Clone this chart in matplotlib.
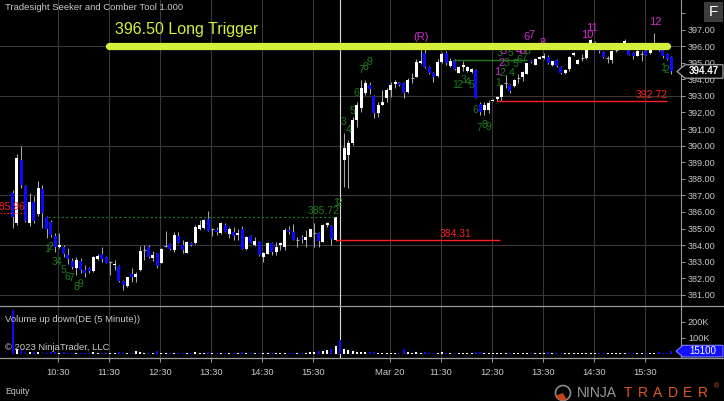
import matplotlib

matplotlib.use("Agg")
import matplotlib.pyplot as plt
import numpy as np
from matplotlib.lines import Line2D
from matplotlib.patches import Circle, Polygon, Rectangle, Wedge
from matplotlib.transforms import IdentityTransform

plt.rcParams["font.family"] = ["Liberation Sans", "DejaVu Sans"]

# ---- 5 minute bars, session 1 (Mar 17) ----
d1_open = [
    387.13, 385.36, 389.14, 387.55, 385.36, 386.63, 385.88, 387.37, 385.68, 385.42,
    384.56, 383.87, 383.91, 383.41, 383.07, 382.60, 383.07, 382.50, 382.60, 382.46,
    383.15, 383.45, 383.30, 383.00, 382.80, 382.75, 381.86, 381.54, 382.24, 382.10,
    382.50, 383.70, 383.90, 383.25, 383.50, 382.95, 383.95, 384.08, 383.71, 384.56,
    384.00, 383.55, 384.15, 384.10, 384.96, 385.02, 385.56, 384.95, 384.90, 384.72,
    385.22, 384.68, 384.82, 384.62, 384.96, 383.75, 384.56, 384.00, 384.21, 383.31,
    383.47, 384.10, 383.61, 384.00, 383.91, 384.92, 384.82, 384.30, 384.45, 384.30,
    384.52, 384.72, 384.76, 384.21, 385.22, 385.16, 384.31,
]
d1_high = [
    387.30, 389.50, 389.95, 387.65, 387.13, 386.97, 387.84, 387.63, 385.75, 385.50,
    384.76, 384.72, 384.00, 383.81, 383.20, 383.31, 383.20, 382.80, 382.70, 383.35,
    383.45, 383.90, 383.35, 383.05, 383.10, 382.80, 381.90, 382.10, 382.60, 382.35,
    383.95, 384.00, 384.00, 383.65, 383.55, 383.80, 384.88, 384.10, 384.82, 384.82,
    384.30, 384.25, 384.20, 385.20, 385.52, 385.55, 386.03, 385.02, 385.10, 385.40,
    385.32, 385.08, 385.12, 384.95, 385.16, 384.55, 384.60, 384.50, 384.25, 383.60,
    384.20, 384.20, 384.20, 384.20, 385.02, 385.16, 385.28, 384.50, 384.60, 384.90,
    385.00, 385.32, 384.82, 385.28, 385.40, 385.22, 385.72,
]
d1_low = [
    385.02, 385.20, 387.45, 385.40, 385.16, 385.35, 385.75, 385.02, 384.42, 384.50,
    383.60, 383.80, 383.30, 382.85, 382.55, 382.20, 382.30, 382.10, 382.30, 382.35,
    383.10, 383.00, 382.90, 382.20, 382.50, 381.80, 381.30, 381.50, 381.80, 381.75,
    382.45, 383.10, 383.25, 383.05, 382.60, 382.90, 383.90, 383.70, 383.60, 384.10,
    383.50, 383.50, 383.95, 384.05, 384.90, 385.00, 384.85, 384.55, 384.60, 384.70,
    384.82, 384.40, 384.30, 384.30, 383.75, 383.70, 384.10, 383.95, 383.35, 383.00,
    383.45, 383.40, 383.40, 383.70, 383.70, 384.70, 384.30, 383.90, 384.10, 383.90,
    384.50, 383.90, 383.90, 384.20, 385.10, 384.00, 384.25,
]
d1_close = [
    385.70, 389.24, 387.63, 385.46, 386.63, 385.46, 387.43, 385.92, 384.96, 384.62,
    383.87, 384.01, 383.47, 383.15, 382.67, 383.10, 382.50, 382.30, 382.46, 383.30,
    383.35, 383.15, 382.95, 383.00, 382.85, 381.86, 381.60, 382.10, 382.10, 382.26,
    383.65, 383.70, 383.27, 383.40, 382.75, 383.75, 383.95, 383.75, 384.62, 384.15,
    383.71, 384.20, 384.00, 385.12, 385.22, 385.52, 384.88, 384.95, 384.82, 385.36,
    384.82, 384.96, 384.56, 384.72, 383.75, 384.52, 384.12, 384.27, 383.41, 383.51,
    384.10, 383.61, 383.91, 384.10, 384.92, 384.82, 384.31, 384.30, 384.35, 384.50,
    384.96, 384.72, 384.27, 385.22, 385.32, 384.35, 385.68,
]

# ---- 5 minute bars, session 2 (Mar 20) ----
d2_open = [
    389.15, 389.45, 390.17, 391.56, 392.29, 393.19, 393.67, 393.01, 391.98, 392.47,
    392.89, 393.38, 393.73, 393.80, 393.80, 393.25, 394.10, 394.16, 395.00, 395.60,
    394.76, 394.40, 394.22, 395.06, 395.61, 394.82, 395.12, 394.40, 394.76, 394.52,
    394.46, 394.58, 392.53, 392.17, 392.17, 392.71, 392.83, 392.95, 393.80, 393.67,
    393.60, 394.10, 394.14, 394.34, 395.10, 394.88, 395.22, 395.29, 395.35, 394.88,
    395.18, 394.74, 394.38, 394.62, 395.49, 394.94, 395.30, 395.29, 396.15, 396.10,
    395.90, 395.63, 395.30, 395.14, 395.75, 396.00, 396.20, 395.89, 395.59, 395.43,
    395.50, 395.69, 395.59, 396.00, 395.89, 395.79, 395.50, 395.35,
]
d2_high = [
    390.78, 390.35, 391.74, 392.65, 393.98, 393.98, 393.85, 393.07, 392.60, 393.38,
    393.50, 393.85, 393.98, 393.86, 393.86, 394.08, 394.40, 395.20, 395.85, 395.90,
    394.82, 394.45, 395.24, 395.67, 395.73, 395.30, 395.24, 394.82, 395.12, 394.82,
    394.70, 394.64, 392.60, 392.65, 392.77, 392.83, 393.00, 393.74, 394.28, 393.74,
    394.00, 394.30, 394.48, 395.00, 395.15, 395.30, 395.40, 395.59, 395.45, 395.10,
    395.20, 394.78, 394.60, 395.38, 395.63, 395.25, 395.55, 396.09, 396.45, 396.30,
    396.05, 395.70, 395.40, 395.75, 395.85, 396.10, 396.45, 395.95, 395.65, 395.75,
    395.69, 395.75, 396.10, 396.80, 395.95, 395.85, 395.60, 395.40,
]
d2_low = [
    387.52, 387.46, 390.05, 391.14, 392.05, 393.05, 393.10, 391.68, 391.74, 392.47,
    392.65, 392.95, 393.50, 393.60, 392.90, 393.20, 393.80, 394.16, 394.95, 394.70,
    394.30, 393.86, 394.16, 395.00, 394.88, 394.76, 394.58, 394.35, 394.52, 394.46,
    394.40, 392.89, 391.86, 391.86, 391.98, 392.68, 392.72, 392.72, 393.49, 393.20,
    393.55, 393.80, 393.87, 394.30, 394.98, 394.85, 395.20, 395.25, 394.95, 394.80,
    394.75, 394.30, 394.30, 394.50, 395.40, 394.90, 395.10, 395.25, 396.10, 395.90,
    395.60, 395.30, 395.00, 395.00, 395.65, 395.90, 396.10, 395.45, 395.20, 395.40,
    395.08, 395.45, 395.55, 395.90, 395.70, 395.30, 395.15, 394.30,
]
d2_close = [
    389.87, 390.17, 391.56, 392.47, 393.49, 393.80, 393.43, 391.98, 392.47, 392.65,
    393.38, 393.67, 393.86, 393.67, 393.19, 393.98, 394.10, 395.06, 395.10, 394.76,
    394.40, 394.16, 395.06, 395.55, 395.00, 395.12, 394.64, 394.76, 394.88, 394.76,
    394.64, 392.89, 392.04, 392.47, 392.59, 392.77, 392.95, 393.67, 393.80, 393.32,
    393.98, 394.10, 394.42, 394.98, 395.03, 395.22, 395.35, 395.42, 394.98, 395.08,
    394.78, 394.38, 394.58, 395.35, 395.59, 395.18, 395.30, 395.99, 396.35, 396.15,
    395.69, 395.35, 395.30, 395.69, 395.75, 396.00, 396.30, 395.49, 395.39, 395.69,
    395.50, 395.49, 395.89, 396.00, 395.79, 395.40, 395.23, 394.47,
]

# volume in thousands of shares; the session-break slot has volume but no candle
d1_volume = [
    272, 28, 22, 11, 9, 10, 8, 9, 6, 7,
    8, 6, 7, 5, 6, 5, 6, 5, 4, 10,
    5, 6, 4, 3, 4, 7, 5, 6, 4, 16,
    8, 4, 6, 3, 14, 6, 4, 5, 6, 5,
    4, 5, 3, 7, 5, 6, 8, 3, 4, 5,
    4, 3, 4, 3, 9, 5, 4, 3, 6, 4,
    5, 4, 3, 3, 6, 4, 5, 3, 4, 3,
    8, 10, 14, 16, 22, 28, 45,
]
break_volume = 84
d2_volume = [
    28, 22, 14, 10, 12, 11, 8, 12, 6, 5,
    6, 5, 4, 5, 26, 8, 5, 9, 6, 7,
    5, 4, 6, 8, 5, 4, 5, 4, 3, 4,
    6, 9, 7, 5, 4, 3, 4, 5, 3, 4,
    3, 4, 3, 5, 4, 3, 3, 4, 11, 4,
    5, 4, 6, 6, 4, 3, 3, 4, 3, 4,
    3, 4, 3, 4, 3, 3, 4, 5, 4, 3,
    3, 4, 4, 5, 11, 4, 6, 15.1,
]

# time axis
hour_ticks = [10.7, 22.7, 34.7, 46.7, 58.7, 70.7, 88.7, 100.7, 112.7, 124.7, 136.7, 148.7]
hour_labels = ["10:30", "11:30", "12:30", "13:30", "14:30", "15:30",
               "Mar 20", "11:30", "12:30", "13:30", "14:30", "15:30"]
session_break = 77
grid_prices = [381, 384, 387, 390, 393, 396]
price_ticks = list(range(381, 399))

# Seeker / Comber counts (text, bar position, price)
green_counts = [
    ("1", 8.0, 383.75), ("2", 8.8, 383.87), ("3", 9.95, 383.0), ("4", 10.9, 383.0),
    ("5", 11.9, 382.5), ("6", 12.9, 382.1), ("7", 13.9, 382.04), ("8", 14.9, 381.5),
    ("9", 15.9, 381.66),
    ("1", 76.0, 386.56), ("2", 76.8, 386.56), ("3", 77.8, 391.44), ("4", 79.0, 390.94),
    ("5", 80.0, 392.1), ("6", 80.9, 393.19), ("7", 82.1, 394.56), ("8", 83.0, 394.72),
    ("9", 83.9, 395.02),
    ("1", 104.1, 393.66), ("2", 105.0, 393.66), ("3", 106.0, 393.96), ("4", 107.0, 393.82),
    ("5", 108.0, 393.66), ("6", 108.9, 392.15), ("7", 109.9, 391.05), ("8", 111.0, 391.24),
    ("9", 111.9, 391.14),
    ("1", 114.3, 393.76), ("2", 115.3, 394.4), ("3", 116.2, 394.96), ("4", 117.4, 394.4),
    ("5", 118.2, 394.9), ("6", 119.2, 395.16), ("7", 120.3, 395.28), ("3", 114.5, 395.6),
    ("5", 117.2, 395.57), ("8", 121.2, 395.7),
    ("1", 153.0, 394.68), ("2", 153.9, 394.56),
]
magenta_counts = [
    ("(R)", 96.1, 396.55), ("1", 113.9, 394.46), ("2", 115.1, 395.0), ("3", 115.6, 395.73),
    ("4", 119.0, 395.7), ("5", 120.0, 395.7), ("6", 121.0, 396.55), ("7", 122.1, 396.67),
    ("8", 124.8, 396.19), ("10", 135.1, 396.67), ("11", 136.3, 397.09), ("12", 151.1, 397.45),
]

trigger_price = 396.0
trigger_text = "396.50 Long Trigger"
prior_close = 385.96
setup_high = 385.72
setup_open = 384.31
day2_support = 392.72
day2_level = 395.16

W, H = 724, 401
BG = "black"
TXT = "#c8c8c8"
FRAME = "#9a9a9a"
GRID = "#383838"
UP = "white"
DOWN = "#0a0aff"
WICK = "#a8a8a8"
GREEN = "#1d7d1d"
MAGENTA = "#d42ad4"
RED = "#ff1e1e"
TRIGGER = "#d4f03a"


def fx(px):
    return px / W


def fy(py):
    return 1 - py / H


opens = np.array(d1_open + [np.nan] + d2_open)
highs = np.array(d1_high + [np.nan] + d2_high)
lows = np.array(d1_low + [np.nan] + d2_low)
closes = np.array(d1_close + [np.nan] + d2_close)
volume = np.array(d1_volume + [break_volume] + d2_volume) * 1000
x = np.arange(len(opens))

fig = plt.figure(figsize=(W / 100, H / 100), dpi=100, facecolor=BG)
ax = fig.add_axes([0, fy(306), fx(681), 306 / H])
axv = fig.add_axes([0, fy(358), fx(681), 52 / H], sharex=ax)

for a in (ax, axv):
    a.set_facecolor(BG)
    for side in ("top", "left", "bottom"):
        a.spines[side].set_visible(False)
    a.spines["right"].set_color(FRAME)
    a.spines["right"].set_linewidth(0.8)
    for t in hour_ticks:
        a.axvline(t, color=GRID, lw=0.8, zorder=0)
    a.axvline(session_break, color="#d8d8d8", lw=0.8, zorder=1)

ax.set_xlim(-2.99, 157.25)
ax.set_ylim(380.33, 398.78)
axv.set_ylim(-28000, 297000)

for p in grid_prices:
    ax.axhline(p, color=GRID, lw=0.8, zorder=0)

# candles
ok = ~np.isnan(opens)
up = ok & (closes > opens)
down = ok & (closes < opens)
flat = ok & (closes == opens)
ax.vlines(x[ok], lows[ok], highs[ok], color=WICK, lw=0.75, zorder=2)
ax.bar(x[up], (closes - opens)[up], bottom=opens[up], width=0.72, color=UP, lw=0, zorder=3)
ax.bar(x[down], (opens - closes)[down], bottom=closes[down], width=0.72, color=DOWN, lw=0, zorder=3)
ax.hlines(opens[flat], x[flat] - 0.36, x[flat] + 0.36, color=WICK, lw=0.8, zorder=3)

# volume
vol_colors = np.where(closes >= opens, UP, DOWN)
axv.bar(x, volume, width=0.45, color=vol_colors, lw=0, zorder=3)

# levels
ax.hlines(prior_close, -3, 2.7, color=RED, lw=0.8, linestyles=(0, (1.5, 1.5)), zorder=4)
ax.text(2.9, prior_close + 0.05, f"{prior_close:.2f}", color=RED, fontsize=7.5, ha="right", va="bottom")
ax.hlines(setup_high, 8.3, 76, color=GREEN, lw=0.8, linestyles=(0, (2, 2)), zorder=4)
ax.text(77, setup_high + 0.04, f"{setup_high:.2f}", color=GREEN, fontsize=7.5, ha="right", va="bottom")
ax.hlines(setup_open, 76, 114.7, color=RED, lw=1.0, zorder=4)
ax.text(108, setup_open + 0.05, f"{setup_open:.2f}", color=RED, fontsize=7.5, ha="right", va="bottom")
ax.hlines(day2_level, 103.6, 121, color=GREEN, lw=1.0, zorder=4)
ax.hlines(day2_support, 114, 154, color=RED, lw=1.0, zorder=4)
ax.text(154, day2_support + 0.05, f"{day2_support:.2f}", color=RED, fontsize=7.5, ha="right", va="bottom")

for s, i, p in green_counts:
    ax.text(i, p, s, color=GREEN, fontsize=7.5, ha="center", va="center", zorder=5)
for s, i, p in magenta_counts:
    ax.text(i, p, s, color=MAGENTA, fontsize=8, ha="center", va="center", zorder=5)

ax.plot([22.7, 154], [trigger_price, trigger_price], color=TRIGGER, lw=5.2,
        solid_capstyle="round", zorder=6)
ax.text(24.1, 397.03, trigger_text, color=TRIGGER, fontsize=11.5, ha="left", va="center", zorder=6)

# axes ticks
ax.yaxis.tick_right()
ax.set_yticks(price_ticks)
ax.set_yticklabels(["" if v == 398 else f"{v:.2f}" for v in price_ticks])
ax.tick_params(axis="y", colors=FRAME, labelcolor=TXT, labelsize=6.6, length=3, width=0.7, pad=2)
ax.tick_params(axis="x", length=0, labelbottom=False)

axv.yaxis.tick_right()
axv.set_yticks([100000, 200000])
axv.set_yticklabels(["100K", "200K"])
axv.tick_params(axis="y", colors=FRAME, labelcolor=TXT, labelsize=6.6, length=3, width=0.7, pad=2)
axv.set_xticks(hour_ticks)
axv.set_xticklabels(hour_labels)
axv.tick_params(axis="x", colors=FRAME, labelcolor=TXT, labelsize=6.8, length=3, width=0.7, pad=4.5)

# panel separators
for py in (306, 358):
    fig.add_artist(Line2D([0, 1], [fy(py), fy(py)], transform=fig.transFigure, color=FRAME, lw=0.9))

fig.text(fx(5), fy(8), "Tradesight Seeker and Comber Tool 1.000", color=TXT, fontsize=6.8, va="center")
fig.text(fx(5), fy(319), "Volume up down(DE (5 Minute))", color=TXT, fontsize=6.8, va="center")
fig.text(fx(5), fy(347), "\u00a9 2023 NinjaTrader, LLC", color=TXT, fontsize=6.8, va="center")
fig.text(fx(5), fy(391), "Equity", color=TXT, fontsize=6.3, va="center")

# last price / last volume markers (pixel space)
ident = IdentityTransform()
yc = ax.transData.transform((0, closes[-1]))[1]
fig.add_artist(Polygon([(677, yc), (685, yc + 6.7), (723, yc + 6.7), (723, yc - 6.7), (685, yc - 6.7)],
                       closed=True, transform=ident, fc="black", ec="#b8b8b8", lw=0.8))
fig.text(703.5, yc, f"{closes[-1]:.2f}", transform=ident, color="white", fontsize=7,
         ha="center", va="center", fontweight="bold")

yv = axv.transData.transform((0, volume[-1]))[1]
fig.add_artist(Polygon([(676, yv), (683, yv + 5.8), (723, yv + 5.8), (723, yv - 5.8), (683, yv - 5.8)],
                       closed=True, transform=ident, fc="#1010ff", ec="#7a7aff", lw=0.8))
fig.text(703, yv, f"{volume[-1]:.0f}", transform=ident, color="white", fontsize=7,
         ha="center", va="center")

# F button
fig.add_artist(Rectangle((704, H - 21.7), 19, 20, transform=ident, fc="#3c3c3c", ec="none"))
fig.text(713.5, H - 11.7, "F", transform=ident, color="white", fontsize=11, ha="center", va="center")

# NinjaTrader logo
fig.add_artist(Circle((563, H - 393), 7.5, transform=ident, fc="none", ec="#8a8a8a", lw=1.2))
fig.add_artist(Wedge((563, H - 393), 7.5, 200, 300, transform=ident, fc="#c8401a", ec="none"))
fig.text(577, H - 393, "NINJA", transform=ident, color="#9a9a9a", fontsize=10, va="center")
for k, ch in enumerate("TRADER"):
    fig.text(628 + 15 * k, H - 393, ch, transform=ident, color="#e0561e", fontsize=10,
             ha="center", va="center")
fig.text(716, H - 387, "\u00ae", transform=ident, color="#e0561e", fontsize=5, ha="center", va="center")

fig.savefig("out.png", dpi=100, facecolor=BG)
